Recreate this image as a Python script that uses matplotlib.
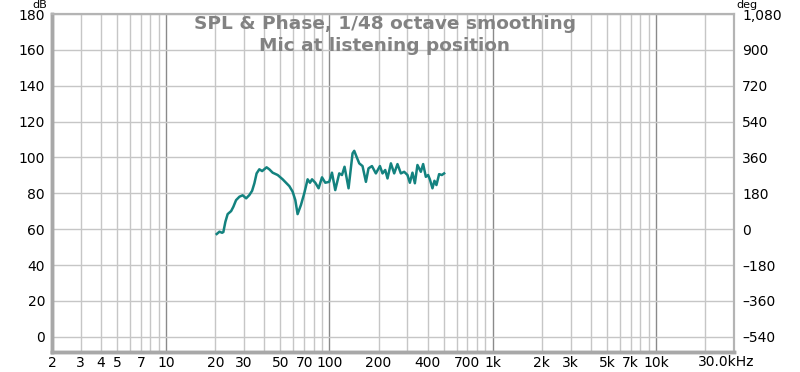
import matplotlib

matplotlib.use("Agg")

import matplotlib.pyplot as plt  # noqa: E402
from matplotlib.ticker import FixedLocator, NullFormatter  # noqa: E402

# SPL trace (Hz, dB)
freq_hz = [
    20.4, 21.2, 22.0, 22.4, 23.05, 23.8, 25.0, 25.8, 26.8, 28.1, 29.4, 30.9,
    32.3, 33.6, 34.7, 35.8, 37.2, 38.7, 39.9, 41.2, 42.8, 44.9, 48.2, 51.7,
    56.8, 59.5, 61.8, 63.8, 66.9, 70.1, 73.5, 76.0, 78.2, 81.9, 85.8, 90.0,
    94.3, 99.7, 103.6, 108.5, 114.8, 119.3, 123.7, 130.9, 138.5, 141.8, 146.5,
    152.2, 159.4, 167.2, 173.4, 182.0, 192.4, 203.7, 211.3, 219.5, 226.7,
    237.8, 249.1, 260.9, 273.7, 286.7, 300.4, 310.7, 322.3, 333.4, 345.8,
    362.7, 374.7, 389.2, 402.0, 411.8, 427.2, 439.4, 451.9, 469.4, 487.6, 503.7,
]
spl_db = [
    57.3, 58.6, 58.0, 58.4, 64.1, 68.4, 70.1, 72.5, 76.2, 78.1, 78.9, 77.2,
    79.0, 81.4, 85.6, 91.1, 93.4, 92.4, 93.4, 94.5, 93.4, 91.5, 90.2, 87.8,
    84.0, 80.9, 76.2, 68.4, 73.5, 80.0, 87.8, 85.9, 87.8, 85.9, 82.8, 88.9,
    85.9, 86.4, 91.5, 81.8, 91.1, 90.2, 94.8, 82.8, 102.3, 103.7, 100.4,
    96.7, 95.2, 86.4, 93.9, 95.2, 91.1, 95.2, 91.1, 93.0, 88.3,
    96.7, 91.1, 96.3, 91.1, 92.0, 90.2, 85.9, 91.5, 85.6, 95.8,
    92.0, 96.3, 89.2, 90.2, 87.8, 82.8, 87.0, 84.6, 90.7, 90.2, 91.1,
]

x_ticks = [2, 3, 4, 5, 7, 10, 20, 30, 50, 70, 100, 200, 400, 700,
           1000, 2000, 3000, 5000, 7000, 10000]
x_tick_labels = ["2", "3", "4", "5", "7", "10", "20", "30", "50", "70", "100",
                 "200", "400", "700", "1k", "2k", "3k", "5k", "7k", "10k"]
db_ticks = [0, 20, 40, 60, 80, 100, 120, 140, 160, 180]
deg_ticks = [-540, -360, -180, 0, 180, 360, 540, 720, 900, 1080]
deg_labels = ["–540", "–360", "–180", "0", "180", "360", "540", "720", "900", "1,080"]

DB_MIN, DB_MAX = -8.5, 180
DEG_PER_DB = 9  # 0 deg sits on 60 dB, 180 deg per 20 dB
LINE = "#13827f"
GRID = "#c6c6c6"
GRID_MAJOR = "#8a8a8a"

fig = plt.figure(figsize=(8, 3.72), dpi=100)
ax = fig.add_axes([52 / 800, 1 - 352 / 372, 682 / 800, 338 / 372])

ax.set_xscale("log")
ax.set_xlim(2, 30000)
ax.set_ylim(DB_MIN, DB_MAX)

# grid: every integer multiple in each decade, decades a bit darker
minor = [m * 10 ** d for d in range(0, 5) for m in range(1, 10)
         if 2 <= m * 10 ** d <= 30000]
for f in minor:
    is_decade = f in (10, 100, 1000, 10000)
    ax.axvline(f, color=GRID_MAJOR if is_decade else GRID,
               lw=1.0, zorder=1)
for y in db_ticks:
    ax.axhline(y, color=GRID, lw=1.0, zorder=1)

ax.plot(freq_hz, spl_db, color=LINE, lw=1.8, zorder=3,
        solid_joinstyle="round")

ax.xaxis.set_major_locator(FixedLocator(x_ticks))
ax.set_xticklabels(x_tick_labels)
ax.xaxis.set_minor_formatter(NullFormatter())
ax.tick_params(axis="x", which="both", length=0, pad=3, labelsize=10)
ax.set_yticks(db_ticks)
ax.tick_params(axis="y", length=0, pad=5, labelsize=10)
ax.annotate("30.0kHz", xy=(30000, 0), xycoords=("data", "axes fraction"),
            xytext=(-8, -3), textcoords="offset pixels",
            ha="center", va="top", fontsize=10)

ax2 = ax.twinx()
ax2.set_ylim((DB_MIN - 60) * DEG_PER_DB, (DB_MAX - 60) * DEG_PER_DB)
ax2.set_yticks(deg_ticks)
ax2.set_yticklabels(deg_labels)
ax2.tick_params(axis="y", length=0, pad=6, labelsize=10)

for a in (ax, ax2):
    for side in ("top", "right"):
        a.spines[side].set_color("#b4b4b4")
        a.spines[side].set_linewidth(1.5)
    for side in ("left", "bottom"):
        a.spines[side].set_color("#a8a8a8")
        a.spines[side].set_linewidth(2.5)

fig.text(40 / 800, 1 - 5 / 372, "dB", ha="center", va="center", fontsize=8)
fig.text(747 / 800, 1 - 5 / 372, "deg", ha="center", va="center", fontsize=8)

ax.text(0.488, 0.997, "SPL & Phase, 1/48 octave smoothing\nMic at listening position",
        transform=ax.transAxes, ha="center", va="top", fontsize=13.3,
        fontweight="bold", color="#828282", linespacing=1.25, zorder=4)

fig.savefig("out.png", dpi=100)
plt.close(fig)
